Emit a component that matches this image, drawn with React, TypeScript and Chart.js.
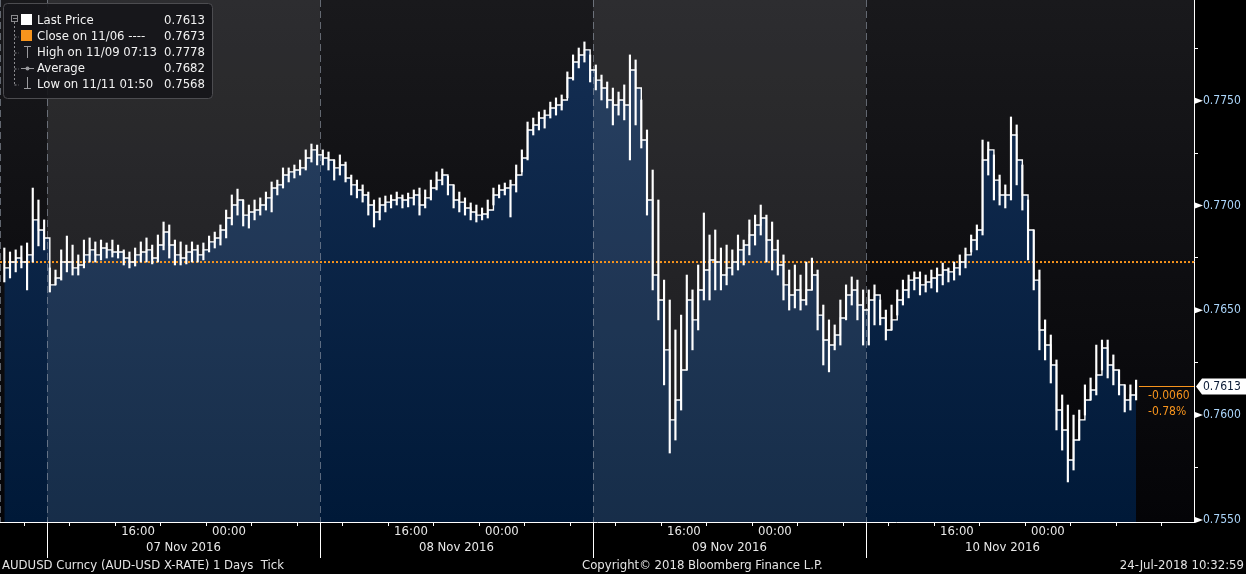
import React, { useEffect, useRef } from 'react';
import { Chart, registerables } from 'chart.js';

Chart.register(...registerables);

const FONT = "'DejaVu Sans Condensed', 'Liberation Sans Narrow', 'DejaVu Sans', sans-serif";

// time axis: hours after 08:00 on 07 Nov 2016, 30-minute bars
const firstBarHour = -4;
const barHours = 0.5;
const axisStartHour = -4.13;
const axisEndHour = 100.84;
const axisHours = [0, 4, 8, 12, 16, 20, 24, 28, 32, 36, 40, 44, 48, 52, 56, 60, 64, 68, 72, 76, 80, 84, 88, 92, 96];
const sessionStarts = [0, 24, 48, 72];
const shadedSessions = [0, 48];
const sessionDates = ['07 Nov 2016', '08 Nov 2016', '09 Nov 2016', '10 Nov 2016'];

const priceTicks = [0.755, 0.7575, 0.76, 0.7625, 0.765, 0.7675, 0.77, 0.7725, 0.775, 0.7775];
const labelledPrices = [0.755, 0.76, 0.765, 0.77, 0.775];
const prevClose = 0.7673;

// prices in pips (1/10000)
const highPips = [
  7679.7, 7677.8, 7678.8, 7680.7, 7682.1, 7708.3, 7702.6, 7693.1,
  7670.2, 7669.2, 7678.8, 7685.4, 7681.1, 7676.4, 7683.5, 7684.5,
  7682.6, 7683.5, 7682.1, 7683.5, 7681.1, 7678.8, 7677.8, 7679.7,
  7682.6, 7684.5, 7681.1, 7685.9, 7692.1, 7690.7, 7683.5, 7682.6,
  7681.1, 7682.6, 7681.1, 7682.1, 7685.4, 7687.3, 7690.7, 7697.8,
  7705.0, 7707.8, 7702.6, 7700.2, 7702.6, 7703.6, 7706.4, 7711.2,
  7712.1, 7717.9, 7717.9, 7719.3, 7721.7, 7726.5, 7729.3, 7728.8,
  7726.5, 7725.5, 7721.7, 7724.1, 7720.7, 7714.5, 7712.1, 7709.8,
  7706.4, 7702.6, 7703.6, 7704.5, 7705.0, 7706.4, 7705.0, 7705.9,
  7707.4, 7708.3, 7707.4, 7712.1, 7716.0, 7717.4, 7714.0, 7709.8,
  7706.4, 7703.6, 7701.2, 7700.2, 7698.8, 7702.6, 7708.3, 7709.8,
  7710.7, 7712.1, 7719.3, 7726.5, 7739.8, 7741.7, 7744.6, 7745.5,
  7749.3, 7751.3, 7752.7, 7763.7, 7771.8, 7775.1, 7778.0, 7771.8,
  7767.0, 7762.2, 7758.9, 7756.0, 7754.1, 7757.5, 7771.8, 7769.4,
  7750.3, 7736.0, 7716.9, 7702.6, 7664.4, 7654.9, 7640.6, 7647.7,
  7666.8, 7659.7, 7671.6, 7696.4, 7685.9, 7688.3, 7679.7, 7681.1,
  7678.8, 7685.9, 7683.5, 7693.1, 7695.4, 7700.2, 7695.4, 7692.1,
  7683.5, 7676.4, 7669.2, 7671.6, 7666.8, 7673.0, 7674.9, 7669.2,
  7652.5, 7645.4, 7643.0, 7654.9, 7662.1, 7665.9, 7664.4, 7659.7,
  7659.7, 7662.1, 7654.9, 7650.1, 7652.5, 7659.7, 7664.4, 7666.8,
  7668.3, 7668.3, 7666.8, 7669.2, 7670.2, 7672.5, 7670.2, 7673.0,
  7676.4, 7679.7, 7685.9, 7690.7, 7731.2, 7730.3, 7724.1, 7714.5,
  7709.8, 7742.2, 7738.4, 7719.3, 7702.6, 7688.3, 7669.2, 7645.4,
  7638.2, 7626.3, 7609.6, 7604.8, 7600.0, 7602.4, 7614.4, 7617.7,
  7633.4, 7635.8, 7635.8, 7628.7, 7621.5, 7614.4, 7614.4, 7616.7,
];

const lowPips = [
  7663.5, 7665.4, 7668.3, 7670.2, 7659.7, 7673.0, 7680.7, 7678.8,
  7658.7, 7662.1, 7664.4, 7668.3, 7666.8, 7666.8, 7670.2, 7673.0,
  7673.0, 7674.0, 7674.9, 7675.4, 7674.9, 7671.6, 7670.2, 7671.1,
  7673.0, 7673.0, 7672.1, 7673.0, 7678.8, 7674.9, 7671.6, 7671.6,
  7672.1, 7673.0, 7673.0, 7674.0, 7677.8, 7679.7, 7681.1, 7684.5,
  7690.7, 7695.4, 7690.2, 7689.2, 7693.1, 7695.4, 7697.8, 7696.9,
  7705.0, 7708.3, 7711.2, 7713.1, 7714.5, 7716.9, 7720.7, 7719.3,
  7719.3, 7716.9, 7712.1, 7714.5, 7711.2, 7705.0, 7703.6, 7701.6,
  7695.4, 7689.7, 7693.1, 7696.9, 7698.8, 7700.2, 7698.8, 7699.3,
  7700.2, 7695.4, 7698.8, 7702.6, 7707.4, 7709.8, 7705.0, 7698.8,
  7696.9, 7695.4, 7693.1, 7692.1, 7693.1, 7694.0, 7700.2, 7703.6,
  7705.0, 7694.5, 7706.4, 7716.0, 7721.7, 7733.6, 7736.0, 7736.9,
  7741.7, 7743.1, 7745.5, 7751.3, 7759.8, 7765.6, 7768.4, 7758.9,
  7755.1, 7750.3, 7746.5, 7738.4, 7743.1, 7740.8, 7721.7, 7738.4,
  7727.4, 7695.4, 7659.7, 7645.4, 7614.4, 7581.9, 7588.1, 7602.4,
  7621.5, 7631.1, 7640.6, 7654.9, 7654.9, 7659.7, 7659.7, 7662.1,
  7666.8, 7669.2, 7671.6, 7676.4, 7681.1, 7685.9, 7673.0, 7669.2,
  7666.8, 7654.9, 7650.1, 7651.1, 7650.1, 7652.5, 7659.7, 7640.6,
  7623.9, 7620.6, 7631.1, 7633.4, 7645.4, 7652.5, 7645.4, 7633.4,
  7633.4, 7643.0, 7643.0, 7635.8, 7640.6, 7647.7, 7652.5, 7655.9,
  7659.7, 7657.3, 7658.7, 7660.6, 7658.7, 7662.1, 7663.5, 7664.4,
  7666.8, 7670.2, 7677.8, 7678.8, 7685.9, 7714.5, 7702.6, 7700.2,
  7698.8, 7702.6, 7709.8, 7697.8, 7674.0, 7659.7, 7631.1, 7626.3,
  7615.3, 7592.9, 7583.3, 7568.1, 7573.8, 7588.1, 7600.0, 7607.2,
  7609.6, 7621.5, 7617.7, 7614.4, 7609.6, 7601.5, 7602.4, 7607.2,
];

const closePips = [
  7670.2, 7673.0, 7674.9, 7673.0, 7676.4, 7693.1, 7688.3, 7684.5,
  7662.1, 7665.4, 7673.0, 7673.0, 7670.2, 7671.6, 7676.4, 7678.8,
  7676.4, 7679.7, 7678.8, 7677.8, 7677.8, 7674.9, 7673.0, 7676.4,
  7677.8, 7678.8, 7674.9, 7681.1, 7687.3, 7681.1, 7676.4, 7674.9,
  7677.8, 7678.8, 7676.4, 7678.8, 7682.6, 7684.5, 7688.3, 7694.0,
  7700.2, 7702.6, 7695.4, 7696.9, 7697.8, 7700.2, 7703.6, 7708.3,
  7709.8, 7714.5, 7716.0, 7716.9, 7717.9, 7722.6, 7726.5, 7724.1,
  7722.6, 7721.7, 7717.9, 7719.3, 7713.1, 7709.8, 7707.4, 7705.0,
  7700.2, 7696.9, 7700.2, 7701.6, 7702.6, 7703.6, 7702.6, 7703.6,
  7705.0, 7700.2, 7703.6, 7708.3, 7712.1, 7714.5, 7709.8, 7702.6,
  7701.6, 7698.8, 7696.9, 7695.4, 7695.9, 7697.8, 7705.0, 7707.4,
  7708.3, 7709.8, 7714.5, 7722.6, 7736.0, 7738.4, 7741.7, 7743.1,
  7746.5, 7747.9, 7750.3, 7760.8, 7768.4, 7771.8, 7774.2, 7764.6,
  7759.8, 7756.0, 7750.3, 7747.9, 7750.3, 7747.9, 7764.6, 7756.0,
  7731.2, 7702.6, 7666.8, 7654.9, 7631.1, 7597.7, 7607.2, 7621.5,
  7654.9, 7645.4, 7659.7, 7669.2, 7674.0, 7673.0, 7666.8, 7670.2,
  7673.0, 7678.8, 7681.1, 7685.9, 7690.7, 7694.0, 7683.5, 7678.8,
  7671.6, 7662.1, 7657.3, 7659.7, 7654.9, 7659.7, 7666.8, 7647.7,
  7635.8, 7633.4, 7638.2, 7646.3, 7657.3, 7659.7, 7652.5, 7650.1,
  7654.9, 7657.3, 7646.3, 7640.6, 7645.4, 7654.9, 7659.7, 7664.4,
  7665.4, 7662.1, 7663.5, 7665.4, 7666.8, 7669.2, 7668.3, 7670.2,
  7673.0, 7676.4, 7683.5, 7688.3, 7721.7, 7726.5, 7712.1, 7705.0,
  7705.0, 7733.6, 7721.7, 7705.0, 7688.3, 7664.4, 7640.6, 7633.4,
  7623.9, 7602.4, 7592.9, 7578.6, 7588.1, 7597.7, 7607.2, 7612.0,
  7619.1, 7632.0, 7623.9, 7621.5, 7614.4, 7607.2, 7609.6, 7613.0,
];

const legendRows = [
  { label: 'Last Price', value: '0.7613' },
  { label: 'Close on 11/06 ----', value: '0.7673' },
  { label: 'High on 11/09 07:13', value: '0.7778' },
  { label: 'Average', value: '0.7682' },
  { label: 'Low on 11/11 01:50', value: '0.7568' },
];

const footerLeft = 'AUDUSD Curncy (AUD-USD X-RATE) 1 Days  Tick';
const footerCenter = 'Copyright\u00a9 2018 Bloomberg Finance L.P.';
const footerRight = '24-Jul-2018 10:32:59';

const ORANGE = '#f7941d';

const barMid = (i: number) => firstBarHour + barHours * (i + 0.5);
const lastClose = closePips[closePips.length - 1] / 10000;
const lastBarEnd = firstBarHour + barHours * closePips.length;

const timeLabel = (v: number): string | string[] => {
  const hod = (((v + 8) % 24) + 24) % 24;
  if (hod === 16) return '16:00';
  if (hod === 0) return '00:00';
  if (hod === 20) return ['', sessionDates[Math.floor(v / 24)]];
  return '';
};

const drawLegend = (ctx: CanvasRenderingContext2D) => {
  ctx.save();
  ctx.beginPath();
  ctx.roundRect(3.5, 3.5, 209, 95, 4);
  ctx.fillStyle = 'rgba(22,22,26,0.92)';
  ctx.fill();
  ctx.strokeStyle = '#4c4c50';
  ctx.lineWidth = 1;
  ctx.stroke();

  const rowY = (r: number) => 20.5 + r * 16;
  ctx.strokeStyle = '#8a8a8e';
  ctx.setLineDash([2, 2]);
  ctx.beginPath();
  ctx.moveTo(14.5, 22);
  ctx.lineTo(14.5, rowY(4) + 1);
  for (let r = 1; r < 5; r++) {
    ctx.moveTo(14.5, rowY(r) + 0.5);
    ctx.lineTo(19, rowY(r) + 0.5);
  }
  ctx.stroke();
  ctx.setLineDash([]);

  ctx.strokeRect(11.5, 15.5, 6, 6);
  ctx.beginPath();
  ctx.moveTo(13, 18.5);
  ctx.lineTo(17, 18.5);
  ctx.stroke();

  ctx.fillStyle = '#ffffff';
  ctx.fillRect(21, 14, 11, 11);
  ctx.fillStyle = ORANGE;
  ctx.fillRect(21, 30, 11, 11);

  ctx.strokeStyle = '#9a9a9e';
  ctx.beginPath();
  ctx.moveTo(24, 46.5);
  ctx.lineTo(31, 46.5);
  ctx.moveTo(27.5, 46.5);
  ctx.lineTo(27.5, 58);
  ctx.moveTo(21, 68.5);
  ctx.lineTo(34, 68.5);
  ctx.moveTo(27.5, 77);
  ctx.lineTo(27.5, 88.5);
  ctx.moveTo(24, 88.5);
  ctx.lineTo(31, 88.5);
  ctx.stroke();
  ctx.fillStyle = '#9a9a9e';
  ctx.beginPath();
  ctx.arc(27.5, 68.5, 2, 0, Math.PI * 2);
  ctx.fill();

  ctx.font = `13px ${FONT}`;
  ctx.fillStyle = '#f2f2f2';
  ctx.textBaseline = 'middle';
  legendRows.forEach((row, i) => {
    ctx.textAlign = 'left';
    ctx.fillText(row.label, 37, rowY(i));
    ctx.textAlign = 'right';
    ctx.fillText(row.value, 205, rowY(i));
  });
  ctx.restore();
};

const bloombergPlugin = {
  id: 'bloomberg',
  beforeDraw(chart: any) {
    const { ctx, chartArea: a, width, height } = chart;
    ctx.save();
    ctx.fillStyle = '#000';
    ctx.fillRect(0, 0, width, height);
    const g = ctx.createLinearGradient(0, a.top, 0, a.bottom);
    g.addColorStop(0, 'rgb(25,25,28)');
    g.addColorStop(1, 'rgb(4,4,7)');
    ctx.fillStyle = g;
    ctx.fillRect(a.left, a.top, a.right - a.left, a.bottom - a.top);
    ctx.restore();
  },
  afterDatasetDraw(chart: any, args: any) {
    if (args.index !== 0) return;
    const { ctx, chartArea: a } = chart;
    const x = chart.scales.x;
    ctx.save();
    ctx.fillStyle = 'rgba(255,255,255,0.09)';
    shadedSessions.forEach((s) => {
      const x0 = x.getPixelForValue(s);
      const x1 = x.getPixelForValue(s + 24);
      ctx.fillRect(x0, a.top, x1 - x0, a.bottom - a.top);
    });
    ctx.strokeStyle = 'rgba(150,158,172,0.6)';
    ctx.lineWidth = 1;
    ctx.setLineDash([7, 4]);
    [axisStartHour, ...sessionStarts].forEach((h) => {
      const px = Math.round(x.getPixelForValue(h)) + 0.5;
      ctx.beginPath();
      ctx.moveTo(px, a.top);
      ctx.lineTo(px, a.bottom);
      ctx.stroke();
    });
    ctx.restore();
  },
  afterDraw(chart: any) {
    const { ctx, chartArea: a, width } = chart;
    const x = chart.scales.x;
    const y = chart.scales.y;
    ctx.save();

    // session dividers under the time axis
    ctx.strokeStyle = '#ffffff';
    ctx.lineWidth = 1;
    sessionStarts.forEach((h) => {
      const px = Math.round(x.getPixelForValue(h)) + 0.5;
      ctx.beginPath();
      ctx.moveTo(px, a.bottom);
      ctx.lineTo(px, a.bottom + 36);
      ctx.stroke();
    });

    // pointers on labelled price ticks
    ctx.fillStyle = '#ffffff';
    labelledPrices.forEach((p) => {
      const py = y.getPixelForValue(p);
      ctx.beginPath();
      ctx.moveTo(a.right + 1, py - 3);
      ctx.lineTo(a.right + 1, py + 3);
      ctx.lineTo(a.right + 9, py);
      ctx.closePath();
      ctx.fill();
    });

    // last price marker
    const ly = Math.round(y.getPixelForValue(lastClose)) - 1.5;
    ctx.strokeStyle = ORANGE;
    ctx.beginPath();
    ctx.moveTo(x.getPixelForValue(lastBarEnd), ly);
    ctx.lineTo(a.right, ly);
    ctx.stroke();
    ctx.fillStyle = '#ffffff';
    ctx.beginPath();
    ctx.moveTo(a.right + 2, ly);
    ctx.lineTo(a.right + 8, ly - 8);
    ctx.lineTo(width, ly - 8);
    ctx.lineTo(width, ly + 8);
    ctx.lineTo(a.right + 8, ly + 8);
    ctx.closePath();
    ctx.fill();
    ctx.font = `12px ${FONT}`;
    ctx.textBaseline = 'middle';
    ctx.textAlign = 'left';
    ctx.fillStyle = '#0b1b36';
    ctx.fillText(lastClose.toFixed(4), a.right + 9, ly);

    const change = lastClose - prevClose;
    ctx.fillStyle = ORANGE;
    ctx.fillText(change.toFixed(4), 1148, ly + 9);
    ctx.fillText(`${((change / prevClose) * 100).toFixed(2)}%`, 1148, ly + 25);

    // footer
    ctx.font = `13px ${FONT}`;
    ctx.fillStyle = '#e4e4e4';
    ctx.fillText(footerLeft, 2, 566);
    ctx.fillText(footerCenter, 582, 566);
    ctx.textAlign = 'right';
    ctx.fillText(footerRight, width - 2, 566);
    ctx.restore();

    drawLegend(ctx);
  },
};

const App: React.FC = () => {
  const canvasRef = useRef<HTMLCanvasElement | null>(null);

  useEffect(() => {
    const ctx = canvasRef.current?.getContext('2d');
    if (!ctx) return;

    const closes = closePips.map((p, i) => ({ x: barMid(i), y: p / 10000 }));
    const ranges = highPips.map((h, i) => ({ x: barMid(i), y: [lowPips[i] / 10000, h / 10000] }));

    const chart = new Chart(ctx, {
      type: 'line',
      data: {
        datasets: [
          {
            type: 'line',
            data: closes,
            stepped: 'before',
            borderWidth: 0,
            pointRadius: 0,
            fill: 'start',
            backgroundColor: (c: any) => {
              const area = c.chart.chartArea;
              if (!area) return 'rgb(10,36,68)';
              const g = c.chart.ctx.createLinearGradient(0, area.top, 0, area.bottom);
              g.addColorStop(0, 'rgb(21,47,84)');
              g.addColorStop(1, 'rgb(0,25,56)');
              return g;
            },
            order: 4,
          },
          {
            type: 'line',
            data: [
              { x: axisStartHour, y: prevClose },
              { x: axisEndHour, y: prevClose },
            ],
            borderColor: ORANGE,
            borderWidth: 2,
            borderDash: [2, 2],
            pointRadius: 0,
            fill: false,
            order: 3,
          },
          {
            type: 'line',
            data: closes,
            stepped: 'before',
            borderColor: '#ffffff',
            borderWidth: 1.4,
            pointRadius: 0,
            fill: false,
            order: 2,
          },
          {
            type: 'bar',
            data: ranges as any,
            backgroundColor: '#ffffff',
            barThickness: 1.5,
            order: 1,
          },
        ],
      },
      options: {
        animation: false,
        responsive: true,
        maintainAspectRatio: false,
        events: [],
        layout: { padding: 0 },
        plugins: {
          legend: { display: false },
          tooltip: { enabled: false },
        },
        scales: {
          x: {
            type: 'linear',
            min: axisStartHour,
            max: axisEndHour,
            offset: false,
            afterBuildTicks: (s: any) => {
              s.ticks = axisHours.map((value) => ({ value }));
            },
            afterFit: (s: any) => {
              s.height = 52;
              s.paddingLeft = 0;
              s.paddingRight = 0;
            },
            ticks: {
              autoSkip: false,
              maxRotation: 0,
              minRotation: 0,
              color: '#e8e8e8',
              padding: -2,
              font: { family: FONT, size: 13, lineHeight: '16px' },
              callback: (v: any) => timeLabel(Number(v)),
            },
            grid: { drawOnChartArea: false, tickLength: 4, tickColor: '#ffffff', color: '#ffffff' },
            border: { color: '#ffffff' },
          },
          y: {
            position: 'right',
            min: 0.7549,
            max: 0.7798,
            afterBuildTicks: (s: any) => {
              s.ticks = priceTicks.map((value) => ({ value }));
            },
            afterFit: (s: any) => {
              s.width = 52;
              s.paddingTop = 0;
              s.paddingBottom = 0;
            },
            ticks: {
              color: '#acd6fb',
              padding: 5,
              font: { family: FONT, size: 12 },
              callback: (v: any) =>
                labelledPrices.some((p) => Math.abs(p - Number(v)) < 1e-6) ? Number(v).toFixed(4) : '',
            },
            grid: { drawOnChartArea: false, tickLength: 4, tickColor: '#ffffff' },
            border: { color: '#ffffff' },
          },
        },
      },
      plugins: [bloombergPlugin],
    });

    return () => {
      chart.destroy();
    };
  }, []);

  return (
    <div style={{ position: 'fixed', left: 0, top: 0, width: 1246, height: 574, background: '#000' }}>
      <canvas ref={canvasRef}></canvas>
    </div>
  );
};

export default App;
